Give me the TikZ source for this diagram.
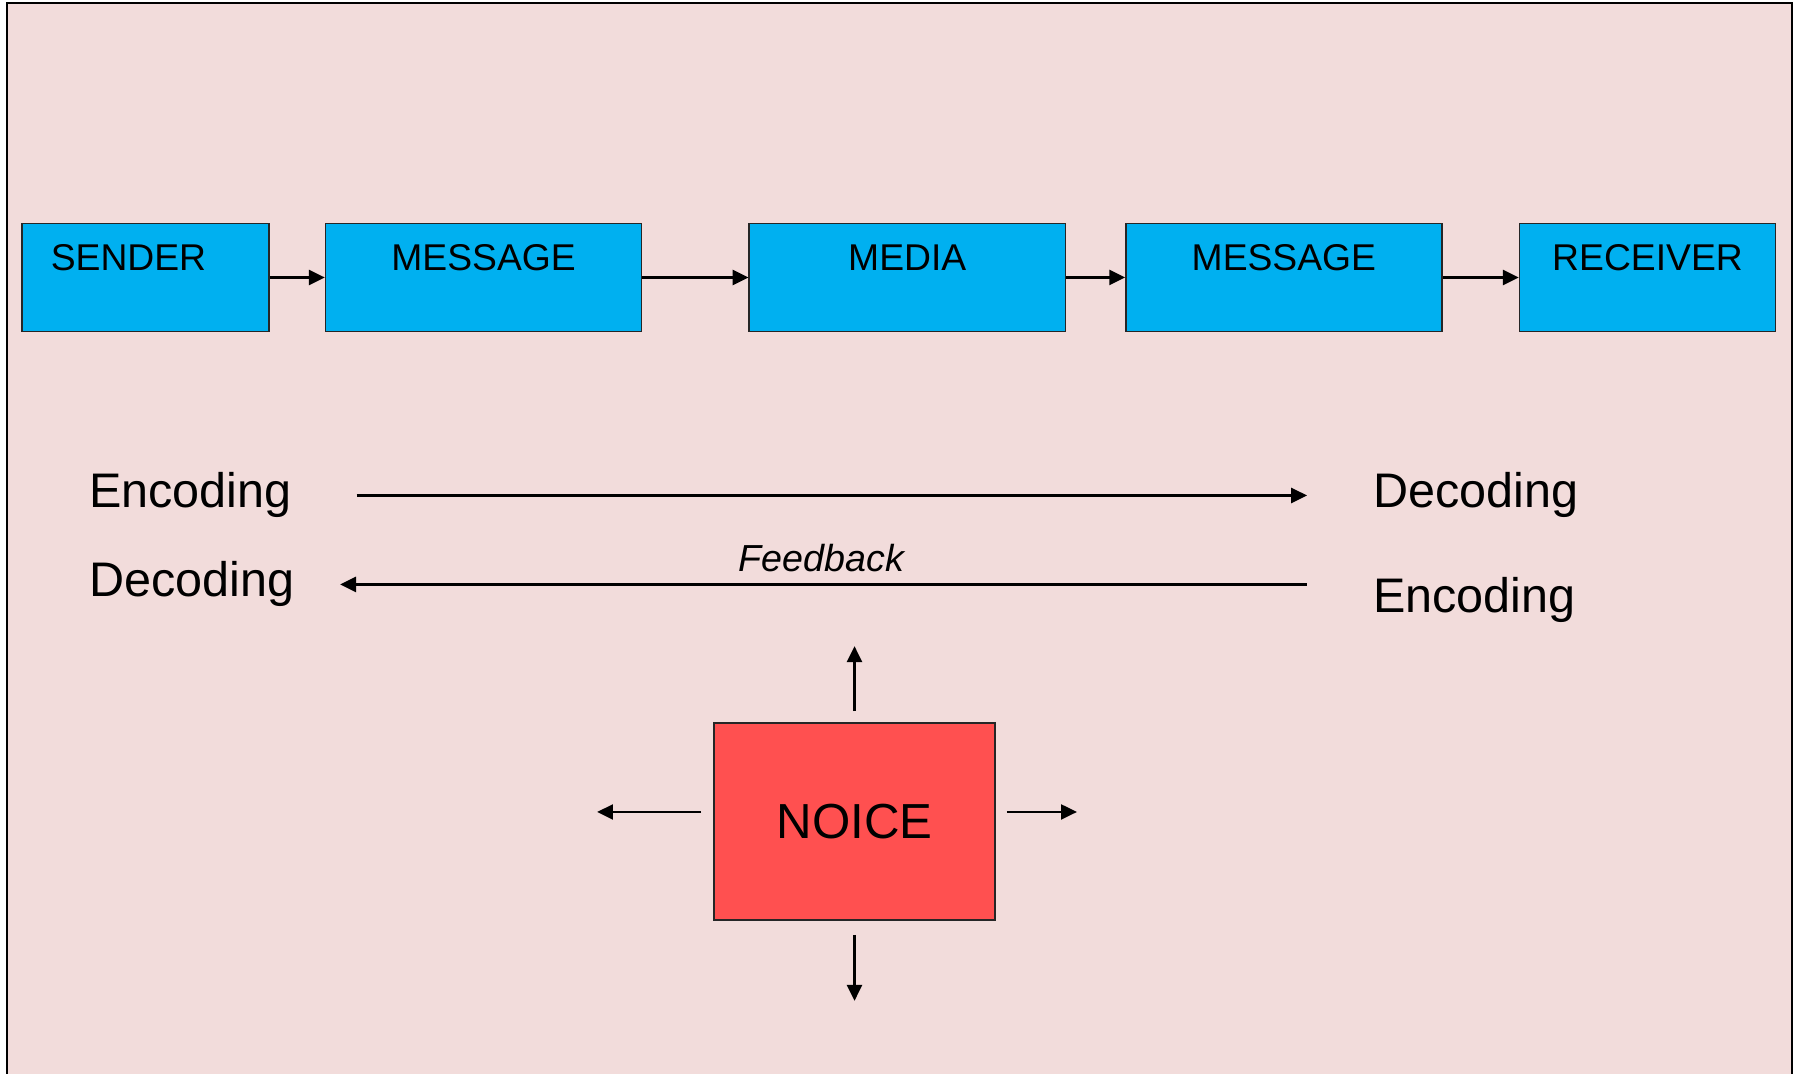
\documentclass[tikz,border=0pt]{standalone}
\usepackage{fontspec}
\setmainfont{Liberation Sans}
\usetikzlibrary{arrows.meta,positioning}
\definecolor{slidepink}{HTML}{F2DCDB}
\definecolor{boxblue}{HTML}{00B0F0}
\definecolor{noisered}{HTML}{FF5050}

\begin{document}
\begin{tikzpicture}[%
    x=0.01cm, y=-0.01cm,
    >={Triangle[length=4.5pt,width=4.3pt]},
    line width=0.6pt,
    block/.style={draw=black!85, line width=0.4pt, fill=boxblue, minimum height=1.08cm, inner sep=0pt},
    blocktext/.style={anchor=base, yshift=-0.48cm, font=\fontsize{10.6}{12}\selectfont},
    side/.style={anchor=base west, inner sep=0pt, font=\fontsize{13.8}{16}\selectfont},
    feedback/.style={anchor=base, yshift=0.13cm, xshift=-0.12cm, font=\fontsize{10.7}{12}\selectfont\itshape}]
    \path[use as bounding box, fill=white] (0,0) rectangle (1801,1074);
    \clip (0,0) rectangle (1801,1074);
    \draw[fill=slidepink] (7,3) rectangle (1792,1080);

    \node[block, minimum width=2.47cm, label={[blocktext, xshift=-0.17cm]north:SENDER}] (sender) at (145.5,277.5) {};
    \node[block, minimum width=3.16cm, label={[blocktext]north:MESSAGE}, right=0.55cm of sender] (msg_1) {};
    \node[block, minimum width=3.16cm, label={[blocktext]north:MEDIA}, right=1.06cm of msg_1] (media) {};
    \node[block, minimum width=3.16cm, label={[blocktext]north:MESSAGE}, right=0.59cm of media] (msg_2) {};
    \node[block, minimum width=2.56cm, label={[blocktext]north:RECEIVER}, right=0.76cm of msg_2] (receiver) {};

    \node[side] (enc_l) at (88,508) {Encoding};
    \node[side] (dec_l) at (88,597) {Decoding};
    \node[side] (dec_r) at (1372,508) {Decoding};
    \node[side] (enc_r) at (1372,613) {Encoding};

    \node[block, fill=noisered, minimum width=2.81cm, minimum height=1.97cm, font=\fontsize{14}{16}\selectfont] (noise) at (854.5,821.5) {NOICE};
    \coordinate[above=0.76cm of noise.north] (noise_n);
    \coordinate[below=0.80cm of noise.south] (noise_s);
    \coordinate[above right=0.095cm and 0.81cm of noise.east] (noise_e);
    \coordinate[above left=0.095cm and 1.16cm of noise.west] (noise_w);

    \path[->]
              (sender) edge (msg_1)
              (msg_1) edge (media)
              (media) edge (msg_2)
              (msg_2) edge (receiver)
              (enc_l) edge [shorten <=0.64cm, shorten >=0.65cm] (dec_r)
              (enc_r.west |- dec_l) edge [shorten <=0.65cm, shorten >=0.45cm] node[feedback] {Feedback} (dec_l.east)

              (noise.north) edge [shorten <=0.11cm] (noise_n)
              (noise.south) edge [shorten <=0.14cm] (noise_s)
              (noise.east |- noise_e) edge [shorten <=0.11cm] (noise_e)
              (noise.west |- noise_w) edge [shorten <=0.12cm] (noise_w);
\end{tikzpicture}
\end{document}
